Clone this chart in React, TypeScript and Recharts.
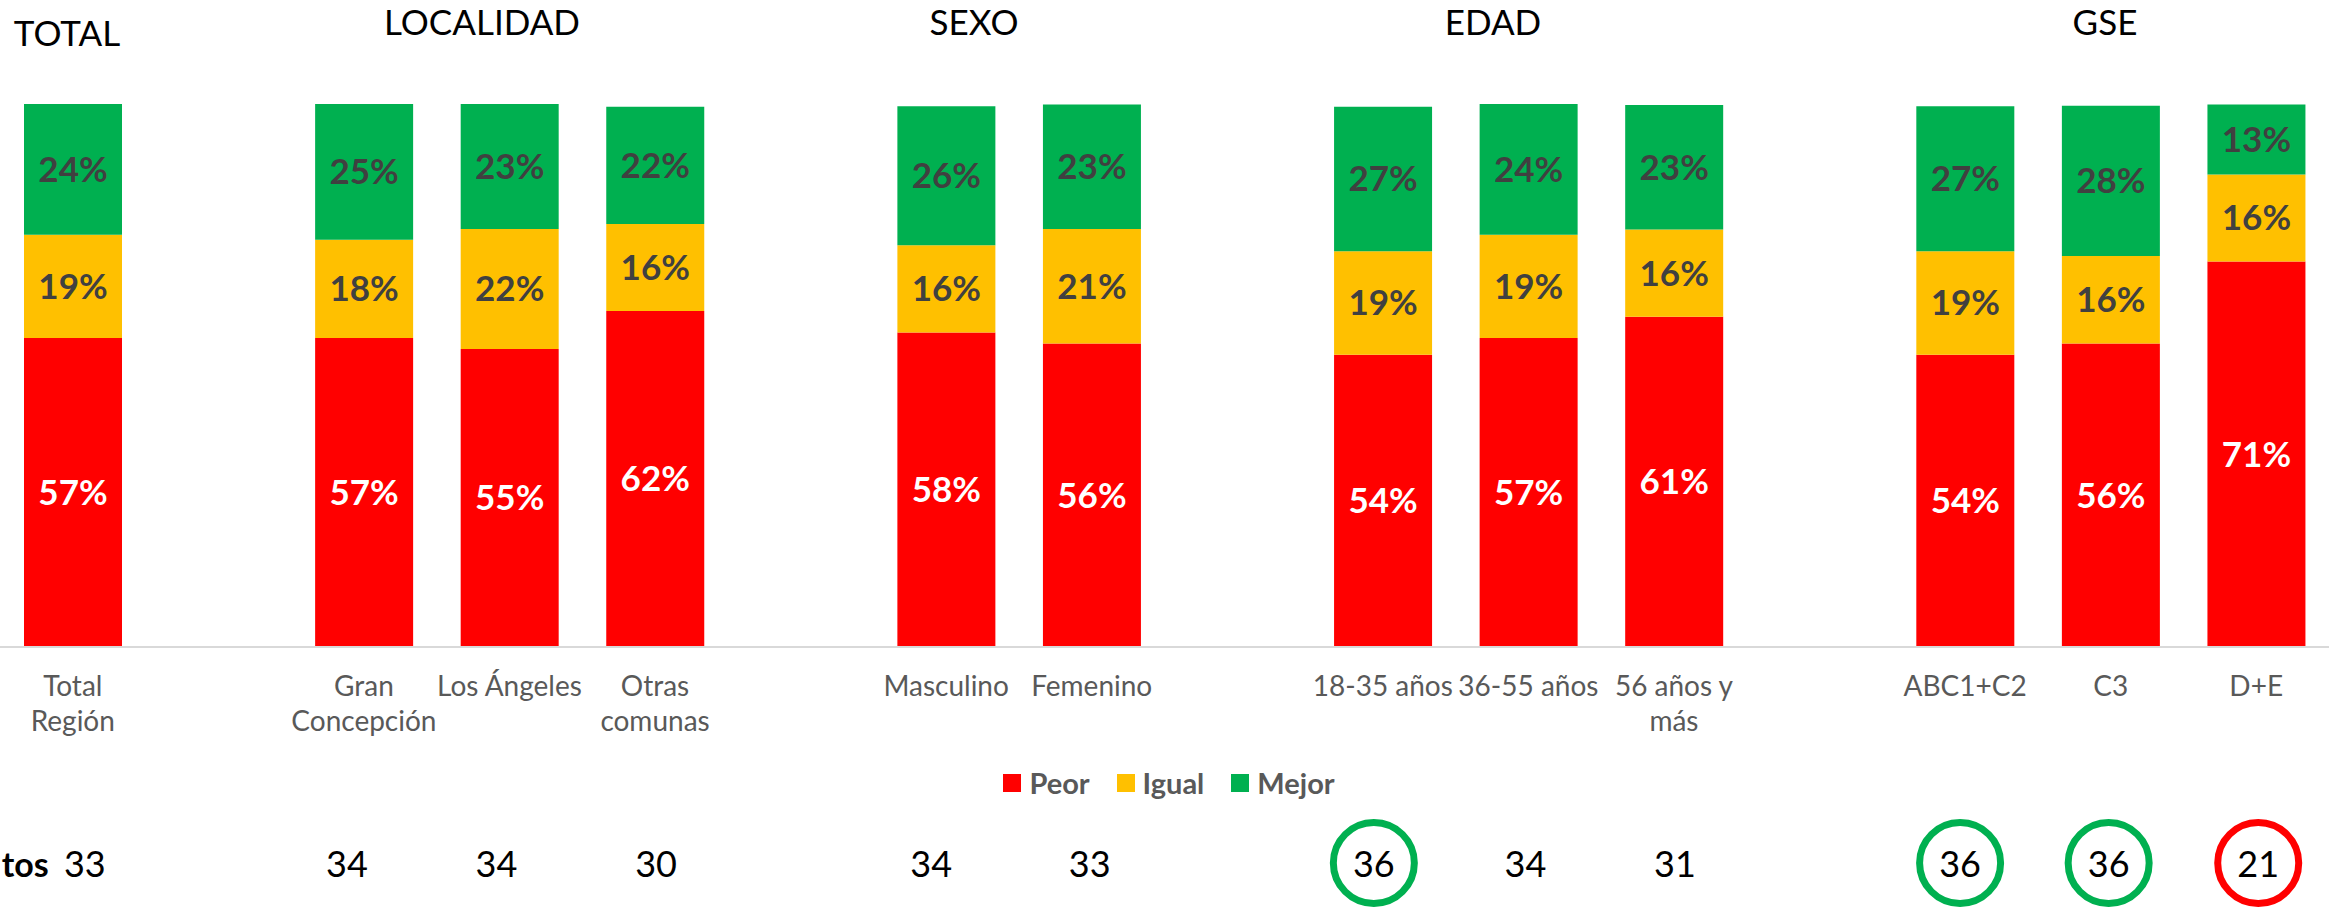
import React from "react";
import { BarChart, Bar, XAxis, YAxis, LabelList, Legend } from "recharts";

// Categorías (las vacías separan los grupos)
const categorias = [
  "Total\nRegión",
  "",
  "Gran\nConcepción",
  "Los Ángeles",
  "Otras\ncomunas",
  "",
  "Masculino",
  "Femenino",
  "",
  "18-35 años",
  "36-55 años",
  "56 años y\nmás",
  "",
  "ABC1+C2",
  "C3",
  "D+E",
];
const series = ["Peor", "Igual", "Mejor"];
const peor = [56.9, null, 56.9, 54.9, 61.9, null, 57.9, 55.9, null, 53.8, 56.9, 60.8, null, 53.8, 55.9, 71.0];
const igual = [19.0, null, 18.1, 22.1, 16.0, null, 16.1, 21.1, null, 19.1, 19.0, 16.1, null, 19.1, 16.1, 16.0];
const mejor = [24.1, null, 25.0, 23.0, 21.6, null, 25.6, 22.9, null, 26.6, 24.1, 22.9, null, 26.7, 27.7, 12.9];
const puntos = [33, null, 34, 34, 30, null, 34, 33, null, 36, 34, 31, null, 36, 36, 21];
const destacados = [null, null, null, null, null, null, null, null, null, "alto", null, null, null, "alto", "alto", "bajo"];
const grupos = ["TOTAL", "LOCALIDAD", "SEXO", "EDAD", "GSE"];
const etiquetaFila = "tos";

const data = categorias.map((nombre, i) => ({
  id: `c${i}`,
  nombre,
  Peor: peor[i],
  Igual: igual[i],
  Mejor: mejor[i],
}));

// Layout
const W = 2333;
const H = 908;
const FONT = "Lato, 'Open Sans', sans-serif";
const tituloPos = [
  { x: 67, y: 46 },
  { x: 482, y: 35 },
  { x: 974, y: 35 },
  { x: 1493, y: 35 },
  { x: 2105, y: 35 },
];
const ajusteN = [12, 0, -17, -13, 1, 0, -15, -2, 0, -9, -3, 1, 0, -5, -2, 2];
const colorMarca: Record<string, string> = { alto: "#00B050", bajo: "#FF0000" };

const fmt = (v: any) => (v === null || v === undefined ? "" : `${Math.round(Number(v))}%`);

function Tick(props: any) {
  const { x, y } = props;
  const i = props.index ?? props.payload?.index ?? 0;
  const lines = categorias[i] ? categorias[i].split("\n") : [];
  const n = puntos[i];
  const marca = destacados[i];
  const nx = x + ajusteN[i];
  return (
    <g>
      {lines.length > 0 && (
        <text textAnchor="middle" fill="#595959" fontSize={28} fontFamily={FONT}>
          {lines.map((l, k) => (
            <tspan key={k} x={x} y={y + 49 + k * 35}>
              {l}
            </tspan>
          ))}
        </text>
      )}
      {i === 0 && (
        <text x={x - 71} y={y + 230} textAnchor="start" fontSize={34} fontWeight={700} fontFamily={FONT} fill="#000">
          {etiquetaFila}
        </text>
      )}
      {marca && (
        <circle cx={nx} cy={y + 216} r={40.5} fill="none" stroke={colorMarca[marca]} strokeWidth={7} />
      )}
      {n !== null && (
        <text x={nx} y={y + 230} textAnchor="middle" fontSize={36} fontFamily={FONT} fill="#000">
          {n}
        </text>
      )}
    </g>
  );
}

function Leyenda(props: any) {
  const payload = [...(props.payload || [])].sort(
    (a: any, b: any) => series.indexOf(a.value) - series.indexOf(b.value)
  );
  return (
    <div
      style={{
        display: "flex",
        justifyContent: "center",
        alignItems: "center",
        gap: 27,
        paddingLeft: 5,
        fontFamily: FONT,
        fontWeight: 700,
        fontSize: 29,
        lineHeight: "36px",
        color: "#595959",
      }}
    >
      {payload.map((p: any) => (
        <div key={p.value} style={{ display: "flex", alignItems: "center" }}>
          <span style={{ display: "inline-block", width: 18, height: 18, background: p.color, marginRight: 8 }} />
          <span>{p.value}</span>
        </div>
      ))}
    </div>
  );
}

export default function App() {
  return (
    <div style={{ position: "absolute", left: 0, top: 0, width: W, height: H, background: "#fff" }}>
      <BarChart width={W} height={H} data={data} margin={{ top: 104, right: 4, left: 0, bottom: 0 }}>
        <XAxis
          dataKey="id"
          interval={0}
          height={261}
          tickLine={false}
          tickSize={0}
          tickMargin={0}
          axisLine={{ stroke: "#D9D9D9", strokeWidth: 2 }}
          tick={<Tick />}
        />
        <YAxis hide domain={[0, 100]} />
        <Legend
          layout="horizontal"
          verticalAlign="middle"
          align="center"
          content={<Leyenda />}
          wrapperStyle={{ position: "absolute", top: 765, left: 0, width: W }}
        />
        <Bar dataKey="Peor" name="Peor" stackId="a" fill="#FF0000" barSize={98} isAnimationActive={false}>
          <LabelList dataKey="Peor" position="center" formatter={fmt} fill="#FFFFFF" fontSize={35} fontWeight={700} fontFamily={FONT} />
        </Bar>
        <Bar dataKey="Igual" name="Igual" stackId="a" fill="#FFC000" barSize={98} isAnimationActive={false}>
          <LabelList dataKey="Igual" position="center" formatter={fmt} fill="#404040" fontSize={35} fontWeight={700} fontFamily={FONT} />
        </Bar>
        <Bar dataKey="Mejor" name="Mejor" stackId="a" fill="#00B050" barSize={98} isAnimationActive={false}>
          <LabelList dataKey="Mejor" position="center" formatter={fmt} fill="#404040" fontSize={35} fontWeight={700} fontFamily={FONT} />
        </Bar>
      </BarChart>
      <svg width={W} height={H} style={{ position: "absolute", left: 0, top: 0, pointerEvents: "none" }}>
        {grupos.map((g, i) => (
          <text key={g} x={tituloPos[i].x} y={tituloPos[i].y} textAnchor="middle" fontSize={35} fontFamily={FONT} fill="#000">
            {g}
          </text>
        ))}
      </svg>
    </div>
  );
}
